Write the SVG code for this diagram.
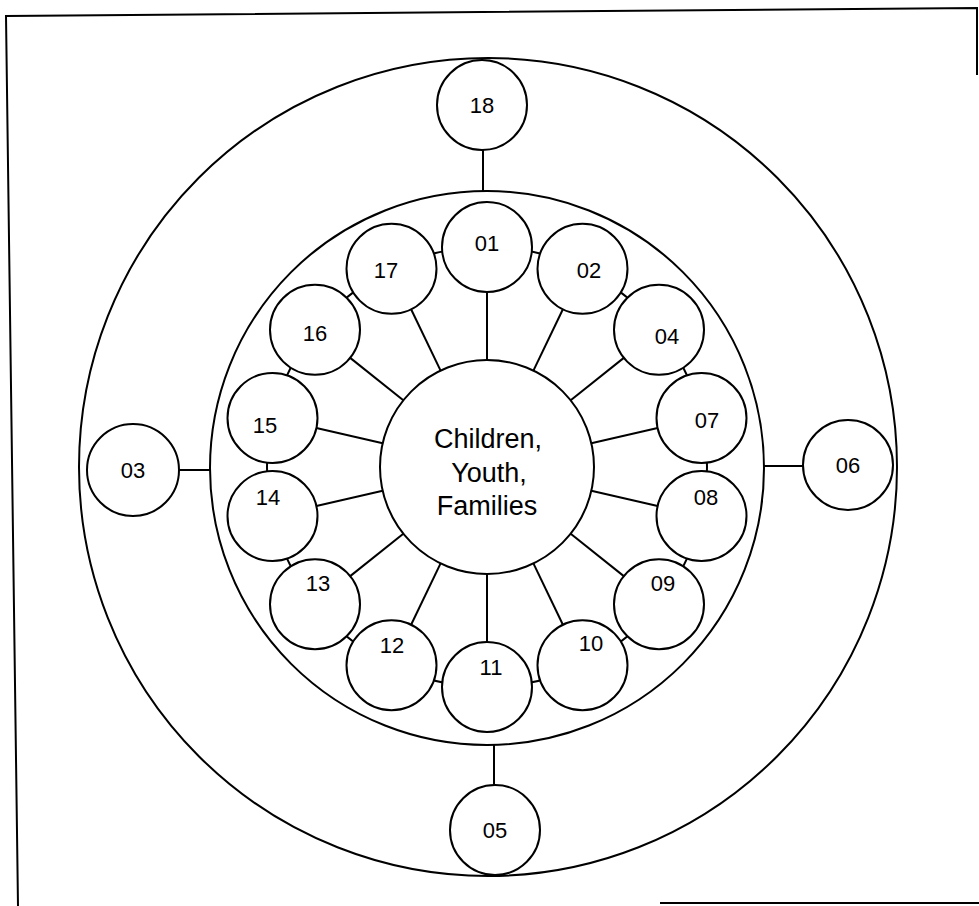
<svg xmlns="http://www.w3.org/2000/svg" width="979" height="906" viewBox="0 0 979 906">
<style>
.ln{fill:none;stroke:#000;stroke-width:2}
.nd{fill:#fff;stroke:#000;stroke-width:2}
.lb{font-family:"Liberation Sans",Arial,sans-serif;font-size:22px;text-anchor:middle;fill:#000}
.ct{font-family:"Liberation Sans",Arial,sans-serif;font-size:27px;text-anchor:middle;fill:#000}
</style>
<rect width="979" height="906" fill="#fff"/>
<g id="frame" class="ln">
<polyline points="977,75 977,8 6,16 18,906"/>
<line x1="660" y1="903" x2="979" y2="903"/>
</g>
<g id="rings" class="ln">
<circle cx="488" cy="467" r="409"/>
<circle cx="487" cy="468" r="277"/>
</g>
<g id="connectors" class="ln">
<circle cx="487" cy="467" r="220"/>
<line x1="483" y1="150" x2="483" y2="191"/>
<line x1="179" y1="470" x2="210" y2="470"/>
<line x1="764" y1="466" x2="803" y2="466"/>
<line x1="494" y1="745" x2="494" y2="785"/>
<line x1="487" y1="360" x2="487" y2="292"/>
<line x1="533.4" y1="370.6" x2="562.9" y2="309.3"/>
<line x1="570.7" y1="400.3" x2="623.8" y2="357.9"/>
<line x1="591.3" y1="443.2" x2="657.6" y2="428.1"/>
<line x1="591.3" y1="490.8" x2="657.6" y2="505.9"/>
<line x1="570.7" y1="533.7" x2="623.8" y2="576.1"/>
<line x1="533.4" y1="563.4" x2="562.9" y2="624.7"/>
<line x1="487" y1="574" x2="487" y2="642"/>
<line x1="440.6" y1="563.4" x2="411.1" y2="624.7"/>
<line x1="403.3" y1="533.7" x2="350.2" y2="576.1"/>
<line x1="382.7" y1="490.8" x2="316.4" y2="505.9"/>
<line x1="382.7" y1="443.2" x2="316.4" y2="428.1"/>
<line x1="403.3" y1="400.3" x2="350.2" y2="357.9"/>
<line x1="440.6" y1="370.6" x2="411.1" y2="309.3"/>
</g>
<g id="center">
<circle class="nd" cx="487" cy="467" r="107"/>
<text class="ct" x="488" y="448">Children,</text>
<text class="ct" x="489" y="482">Youth,</text>
<text class="ct" x="487" y="515">Families</text>
</g>
<g id="n18"><circle class="nd" cx="482" cy="105" r="45"/><text class="lb" x="482" y="113">18</text></g>
<g id="n03"><circle class="nd" cx="133" cy="470" r="46"/><text class="lb" x="133" y="478">03</text></g>
<g id="n06"><circle class="nd" cx="848" cy="465" r="45"/><text class="lb" x="848" y="473">06</text></g>
<g id="n05"><circle class="nd" cx="495" cy="830" r="45"/><text class="lb" x="495" y="838">05</text></g>
<g id="n01"><circle class="nd" cx="487" cy="247" r="45"/><text class="lb" x="487" y="251">01</text></g>
<g id="n02"><circle class="nd" cx="582.5" cy="268.8" r="45"/><text class="lb" x="589" y="278">02</text></g>
<g id="n04"><circle class="nd" cx="659" cy="329.8" r="45"/><text class="lb" x="667" y="344">04</text></g>
<g id="n07"><circle class="nd" cx="701.5" cy="418" r="45"/><text class="lb" x="707" y="428">07</text></g>
<g id="n08"><circle class="nd" cx="701.5" cy="516" r="45"/><text class="lb" x="706" y="505">08</text></g>
<g id="n09"><circle class="nd" cx="659" cy="604.2" r="45"/><text class="lb" x="663" y="591">09</text></g>
<g id="n10"><circle class="nd" cx="582.5" cy="665.2" r="45"/><text class="lb" x="591" y="651">10</text></g>
<g id="n11"><circle class="nd" cx="487" cy="687" r="45"/><text class="lb" x="491" y="675">11</text></g>
<g id="n12"><circle class="nd" cx="391.5" cy="665.2" r="45"/><text class="lb" x="392" y="653">12</text></g>
<g id="n13"><circle class="nd" cx="315" cy="604.2" r="45"/><text class="lb" x="318" y="591">13</text></g>
<g id="n14"><circle class="nd" cx="272.5" cy="516" r="45"/><text class="lb" x="268" y="505">14</text></g>
<g id="n15"><circle class="nd" cx="272.5" cy="418" r="45"/><text class="lb" x="265" y="433">15</text></g>
<g id="n16"><circle class="nd" cx="315" cy="329.8" r="45"/><text class="lb" x="315" y="341">16</text></g>
<g id="n17"><circle class="nd" cx="391.5" cy="268.8" r="45"/><text class="lb" x="386" y="278">17</text></g>
</svg>
